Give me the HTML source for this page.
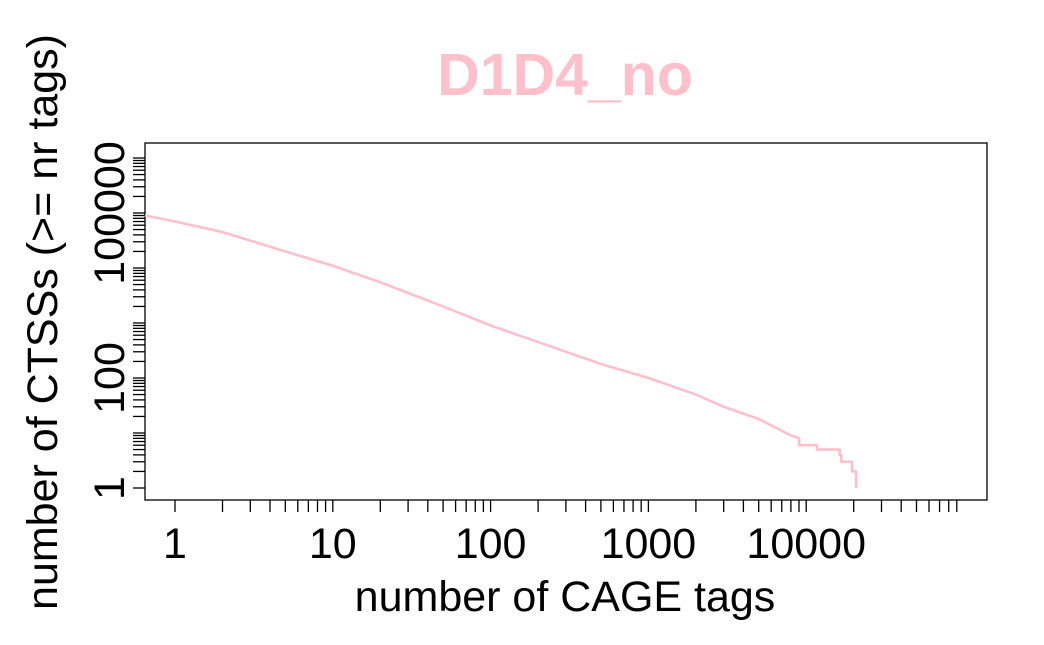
<!DOCTYPE html>
<html><head><meta charset="utf-8"><style>
html,body{margin:0;padding:0;background:#fff;}
svg{display:block;font-family:"Liberation Sans",Arial,sans-serif;}
</style></head><body>
<svg id="chart" width="1044" height="645" viewBox="0 0 1044 645" xmlns="http://www.w3.org/2000/svg">
<text x="565" y="95" text-anchor="middle" font-size="59" font-weight="bold" fill="#FFC0CB">D1D4_no</text>
<text x="565" y="611" text-anchor="middle" font-size="43" fill="#000">number of CAGE tags</text>
<text transform="translate(57,322) rotate(-90)" text-anchor="middle" font-size="43" fill="#000">number of CTSSs (&gt;= nr tags)</text>
<rect x="145" y="143" width="842" height="357" fill="none" stroke="#000" stroke-width="1.3"/>
<g id="xaxis"></g>
<g id="yaxis"></g>
<g id="series"></g>
</svg>
<script>
const xTickLabels = ["1","10","100","1000","10000"];
const yTickLabels = ["1","100","100000"];
const tagCounts = [0.62,1,2,5,10,20,50,100,200,500,1000,2000,3000,5000,8000,9030,9030,11700,11700,16300,16300,16700,16700,19500,19500,20700,20700];
const ctssCounts = [90000,70000,45000,20000,11000,5500,2000,900,450,180,100,50,30,18,9,8,6,6,5,5,4,4,3,3,2,2,1];

const NS="http://www.w3.org/2000/svg";
const X0=175, XD=157.8, Y0=488, YD=55;
function sx(v){return X0+Math.log10(v)*XD;}
function sy(v){return Y0-Math.log10(v)*YD;}
function mk(tag,attrs,parent){const e=document.createElementNS(NS,tag);for(const k in attrs)e.setAttribute(k,attrs[k]);parent.appendChild(e);return e;}

const xa=document.getElementById('xaxis');
for(let d=0;d<5;d++){for(let m=1;m<=9;m++){const v=m*Math.pow(10,d);const x=sx(v);
 const t=mk('line',{x1:x,x2:x,y1:500,y2:512,stroke:'#000','stroke-width':1.3},xa);
 
 }}
xTickLabels.forEach(l=>{const t=mk('text',{x:sx(+l),y:558,'text-anchor':'middle','font-size':43},xa);t.textContent=l;
 
 });

const ya=document.getElementById('yaxis');
for(let d=0;d<=6;d++){for(let m=1;m<=(d===6?1:9);m++){const v=m*Math.pow(10,d);const y=sy(v);
 const t=mk('line',{x1:133,x2:145,y1:y,y2:y,stroke:'#000','stroke-width':1.3},ya);
 
 }}
yTickLabels.forEach(l=>{const y=sy(+l);const t=mk('text',{transform:`translate(124,${y}) rotate(-90)`,'text-anchor':'middle','font-size':43},ya);t.textContent=l;
 
 });

const sg=document.getElementById('series');
let pts=tagCounts.map((v,i)=>[Math.max(145,sx(v)),sy(ctssCounts[i])]);
const p=mk('polyline',{points:pts.map(q=>q.join(',')).join(' '),fill:'none',stroke:'#FFC0CB','stroke-width':2.6,'stroke-linejoin':'round'},sg);


</script>
</body></html>
